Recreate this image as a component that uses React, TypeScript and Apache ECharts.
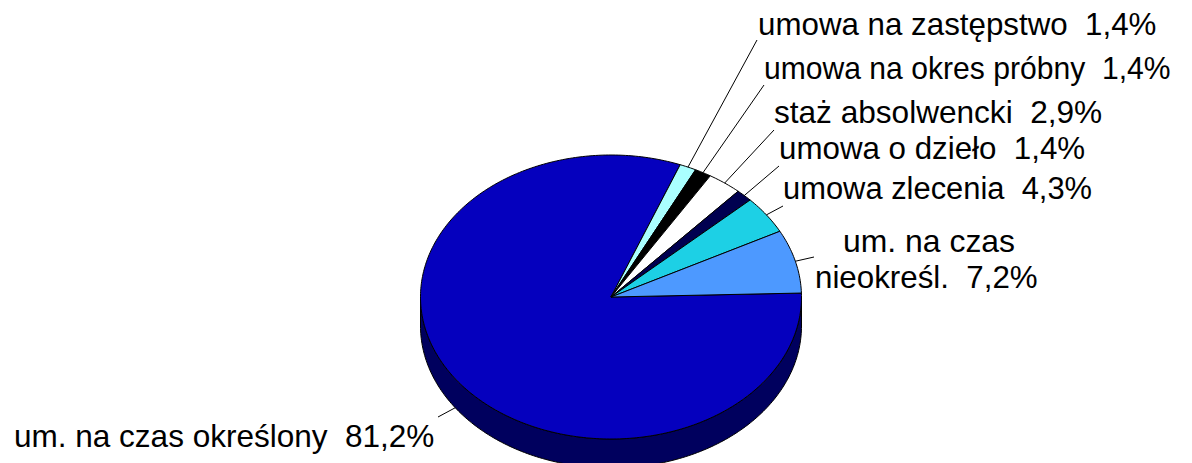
import React, { useEffect, useRef } from "react";
import * as echarts from "echarts";

const categories = [
  "um. na czas określony",
  "umowa na zastępstwo",
  "umowa na okres próbny",
  "staż absolwencki",
  "umowa o dzieło",
  "umowa zlecenia",
  "um. na czas nieokreśl.",
];
const values = [81.2, 1.4, 1.4, 2.9, 1.4, 4.3, 7.2];

const colors = ["#0500BE", "#AAFFFF", "#000000", "#FFFFFF", "#000050", "#1DD0E5", "#4D99FF"];
const SIDE_COLOR = "#00005E";

// label layout: lines, anchor x, baseline y, horizontal stretch, leader end
const labelLayout: { lines: string[]; x: number[]; base: number[]; sx: number[]; end: [number, number] }[] = [
  { lines: ["{c}  {v}"], x: [14], base: [447], sx: [1.017], end: [438, 417] },
  { lines: ["{c}  {v}"], x: [758], base: [35], sx: [1.01], end: [757, 40] },
  { lines: ["{c}  {v}"], x: [764], base: [78], sx: [0.971], end: [764, 85] },
  { lines: ["{c}  {v}"], x: [774], base: [123], sx: [1.019], end: [774, 130] },
  { lines: ["{c}  {v}"], x: [779], base: [159], sx: [1.01], end: [779, 166] },
  { lines: ["{c}  {v}"], x: [783], base: [199], sx: [0.997], end: [783, 206] },
  { lines: ["um. na czas", "nieokreśl.  {v}"], x: [843, 815], base: [252, 288], sx: [1.03, 1.01], end: [814, 257] },
];

const CX = 611;
const CY = 297;
const RX = 190.5;
const RY = 142;
const DEPTH = 29;
const START_DEG = 1.6;
const FONT_SIZE = 31;
const FONT = `${FONT_SIZE}px "Liberation Sans", Arial, sans-serif`;

const pt = (deg: number, dy = 0): number[] => {
  const a = (deg * Math.PI) / 180;
  return [CX + RX * Math.cos(a), CY - RY * Math.sin(a) + dy];
};

const arc = (from: number, to: number, dy = 0): number[][] => {
  const n = Math.max(2, Math.ceil(Math.abs(to - from)));
  const out: number[][] = [];
  for (let i = 0; i <= n; i++) out.push(pt(from + ((to - from) * i) / n, dy));
  return out;
};

const total = values.reduce((s, v) => s + v, 0);

const renderItem = (params: any, api: any) => {
  const i = params.dataIndex;
  const before = values.slice(0, i).reduce((s, v) => s + v, 0);
  const from = START_DEG - (before / total) * 360;
  const to = from - (api.value(0) / total) * 360;
  const children: any[] = [];
  const stroke = { stroke: "#000", lineWidth: 1, lineJoin: "bevel" };

  // visible side wall: the part of the slice on the front half of the ellipse
  const sideFrom = Math.min(from, 0);
  const sideTo = Math.max(to, -180);
  if (sideFrom > sideTo) {
    children.push({
      type: "polygon",
      shape: { points: [...arc(sideFrom, sideTo), ...arc(sideTo, sideFrom, DEPTH)] },
      style: { fill: SIDE_COLOR, ...stroke },
    });
  }
  children.push({
    type: "polygon",
    shape: { points: [[CX, CY], ...arc(from, to)] },
    style: { fill: colors[i], ...stroke },
  });

  const layout = labelLayout[i];
  const mid = (from + to) / 2;
  const norm = ((mid % 360) + 360) % 360;
  const start = pt(mid, norm > 180 ? DEPTH : 0);
  children.push({
    type: "line",
    shape: { x1: start[0], y1: start[1], x2: layout.end[0], y2: layout.end[1] },
    style: { stroke: "#000", lineWidth: 1 },
  });
  const pct = api.value(0).toFixed(1).replace(".", ",") + "%";
  layout.lines.forEach((line, k) => {
    children.push({
      type: "text",
      x: layout.x[k],
      y: layout.base[k] + 5,
      scaleX: layout.sx[k],
      style: {
        text: line.replace("{c}", categories[i]).replace("{v}", pct),
        x: 0,
        y: 0,
        font: FONT,
        fill: "#000",
        textAlign: "left",
        verticalAlign: "bottom",
      },
    });
  });
  return { type: "group", children };
};

export default function App() {
  const ref = useRef<HTMLDivElement>(null);
  useEffect(() => {
    const chart = echarts.init(ref.current!, undefined, { renderer: "svg" });
    chart.setOption({
      animation: false,
      backgroundColor: "#fff",
      series: [
        {
          type: "custom",
          coordinateSystem: "none",
          silent: true,
          renderItem,
          data: values.map((v, i) => ({ name: categories[i], value: [v] })),
        },
      ],
    });
    return () => chart.dispose();
  }, []);
  return <div ref={ref} style={{ position: "absolute", left: 0, top: 0, width: 1192, height: 463 }} />;
}
